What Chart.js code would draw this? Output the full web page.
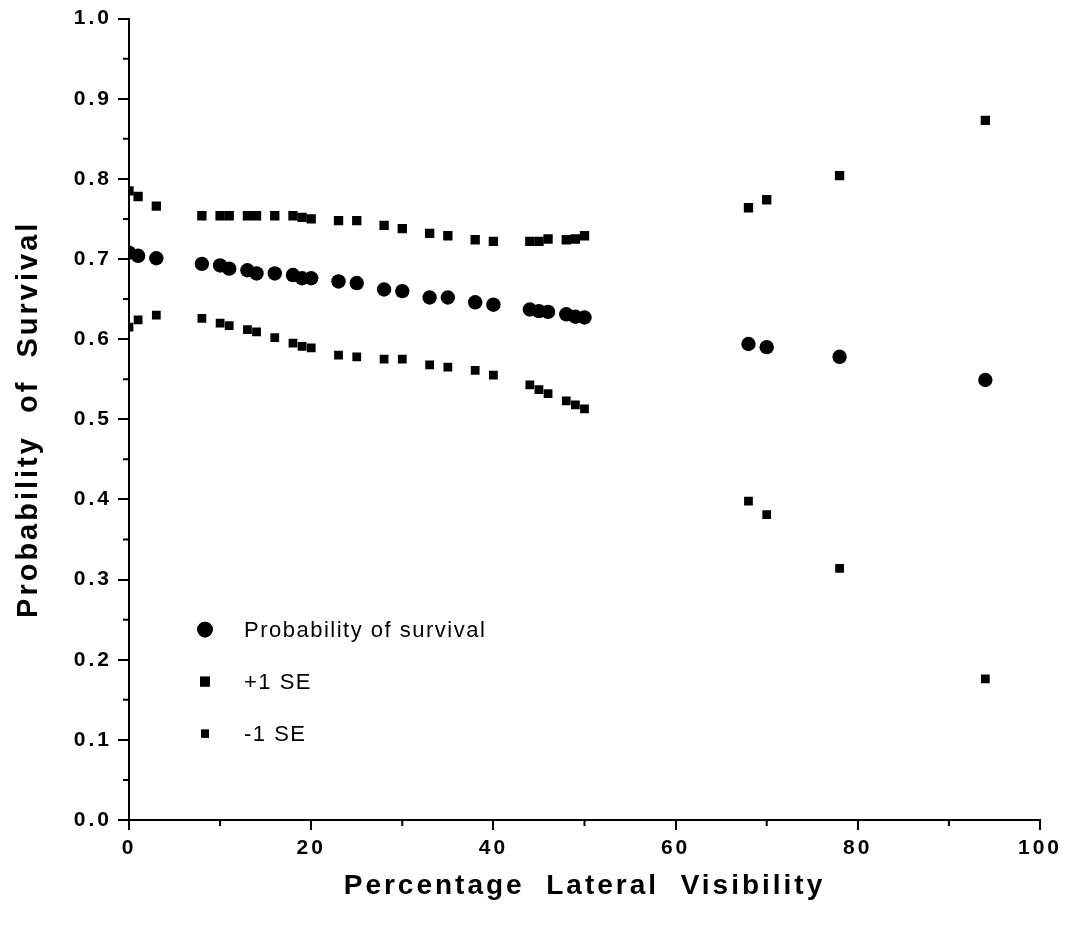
<!DOCTYPE html>
<html>
<head>
<meta charset="utf-8">
<title>Probability of Survival</title>
<script src="https://cdn.jsdelivr.net/npm/chart.js@4/dist/chart.umd.min.js"></script>
<style>
    body { margin: 0; background: #ffffff; }
    #ChartCanvas { display: block; }
</style>
</head>
<body>
<canvas id="ChartCanvas" width="1068" height="933"></canvas>
<script>
// Percentage lateral visibility (x) for every estimate
const visibility = [0, 1, 3, 8, 10, 11, 13, 14, 16, 18, 19, 20, 23, 25, 28, 30, 33, 35, 38, 40, 44, 45, 46, 48, 49, 50, 68, 70, 78, 94];

// Probability of survival and the +/- 1 SE bounds
const survival   = [0.708, 0.704, 0.701, 0.694, 0.692, 0.688, 0.686, 0.682, 0.682, 0.680, 0.676, 0.676, 0.672, 0.670, 0.662, 0.660, 0.652, 0.652, 0.646, 0.643, 0.637, 0.635, 0.634, 0.631, 0.628, 0.627, 0.594, 0.590, 0.578, 0.549];
const plusOneSE  = [0.785, 0.778, 0.766, 0.754, 0.754, 0.754, 0.754, 0.754, 0.754, 0.754, 0.752, 0.750, 0.748, 0.748, 0.742, 0.738, 0.732, 0.729, 0.724, 0.722, 0.722, 0.722, 0.725, 0.724, 0.725, 0.729, 0.764, 0.774, 0.804, 0.873];
const minusOneSE = [0.615, 0.624, 0.630, 0.626, 0.620, 0.617, 0.612, 0.609, 0.602, 0.595, 0.591, 0.589, 0.580, 0.578, 0.575, 0.575, 0.568, 0.565, 0.561, 0.555, 0.543, 0.537, 0.532, 0.523, 0.518, 0.513, 0.398, 0.381, 0.314, 0.176];

const seriesLabels = ['Probability of survival', '+1 SE', '-1 SE'];

// Minor tick positions (unlabelled, shorter)
const xMinorTicks = [10, 30, 50, 70, 90];
const yMinorTicks = [0.05, 0.15, 0.25, 0.35, 0.45, 0.55, 0.65, 0.75, 0.85, 0.95];

Initialize();

function Initialize()
{
    const ctx = document.getElementById('ChartCanvas').getContext('2d');

    const toPoints = values => values.map((v, i) => ({ x: visibility[i], y: v }));

    // Letter spacing for the old laser-printer look of the labels
    const spacingPlugin =
    {
        id: 'spacing',
        beforeDraw(chart)
        {
            if ('letterSpacing' in chart.ctx) chart.ctx.letterSpacing = '3px';
        }
    };

    // Short minor ticks on both axes
    const minorTicksPlugin =
    {
        id: 'minorTicks',
        afterDraw(chart)
        {
            const c = chart.ctx;
            const xs = chart.scales.x;
            const ys = chart.scales.y;
            c.save();
            c.strokeStyle = '#000';
            c.lineWidth = 2;
            c.beginPath();
            xMinorTicks.forEach(v =>
            {
                const px = xs.getPixelForValue(v);
                c.moveTo(px, ys.bottom);
                c.lineTo(px, ys.bottom + 6);
            });
            yMinorTicks.forEach(v =>
            {
                const py = ys.getPixelForValue(v);
                c.moveTo(xs.left, py);
                c.lineTo(xs.left - 6, py);
            });
            c.stroke();
            c.restore();
        }
    };

    // Legend drawn inside the plot, lower left
    const innerLegendPlugin =
    {
        id: 'innerLegend',
        afterDraw(chart)
        {
            const c = chart.ctx;
            const area = chart.chartArea;
            const markerX = area.left + 76;
            const textX = area.left + 115;
            const rowTop = area.top + 611;
            const rowGap = 52;
            c.save();
            if ('letterSpacing' in c) c.letterSpacing = '1.5px';
            c.font = '22px "Liberation Sans", Arial, sans-serif';
            c.fillStyle = '#000';
            c.textAlign = 'left';
            c.textBaseline = 'middle';
            chart.data.datasets.forEach((ds, i) =>
            {
                const y = rowTop + i * rowGap;
                Chart.helpers.drawPoint(c,
                {
                    pointStyle: ds.pointStyle,
                    radius: ds.legendRadius,
                    borderWidth: 0,
                    rotation: 0
                }, markerX, y);
                c.fillStyle = '#000';
                c.fill();
                c.fillText(ds.label, textX, y + 1);
            });
            c.restore();
        }
    };

    new Chart(ctx,
    {
        type: 'scatter',
        data:
        {
            datasets:
            [
                {
                    label: seriesLabels[0],
                    data: toPoints(survival),
                    pointStyle: 'circle',
                    pointRadius: 7.2,
                    legendRadius: 7.8,
                    backgroundColor: '#000',
                    borderColor: '#000',
                    borderWidth: 0
                },
                {
                    label: seriesLabels[1],
                    data: toPoints(plusOneSE),
                    pointStyle: 'rect',
                    pointRadius: 6.6,
                    legendRadius: 7,
                    backgroundColor: '#000',
                    borderColor: '#000',
                    borderWidth: 0
                },
                {
                    label: seriesLabels[2],
                    data: toPoints(minusOneSE),
                    pointStyle: 'rect',
                    pointRadius: 6.2,
                    legendRadius: 5.7,
                    backgroundColor: '#000',
                    borderColor: '#000',
                    borderWidth: 0
                }
            ]
        },
        options:
        {
            responsive: false,
            animation: false,
            layout: { padding: { top: 15, right: 28, left: 0, bottom: 0 } },
            plugins:
            {
                legend: { display: false },
                tooltip: { enabled: false }
            },
            scales:
            {
                x:
                {
                    type: 'linear',
                    min: 0,
                    max: 100,
                    afterFit: scale => { scale.height = 113; },
                    border: { display: true, color: '#000', width: 2 },
                    grid: { drawOnChartArea: false, drawTicks: true, tickLength: 10, color: '#000', lineWidth: 2 },
                    ticks:
                    {
                        stepSize: 20,
                        color: '#000',
                        padding: 6,
                        maxRotation: 0,
                        font: { family: '"Liberation Sans", Arial, sans-serif', size: 21, weight: 'bold' }
                    },
                    title:
                    {
                        display: true,
                        text: 'Percentage  Lateral  Visibility',
                        color: '#000',
                        padding: { top: 0, bottom: 30 },
                        font: { family: '"Liberation Sans", Arial, sans-serif', size: 28, weight: 'bold' }
                    }
                },
                y:
                {
                    type: 'linear',
                    min: 0,
                    max: 1,
                    afterFit: scale => { scale.width = 129; },
                    border: { display: true, color: '#000', width: 2 },
                    grid: { drawOnChartArea: false, drawTicks: true, tickLength: 11, color: '#000', lineWidth: 2 },
                    ticks:
                    {
                        stepSize: 0.1,
                        color: '#000',
                        padding: 6,
                        callback: v => v.toFixed(1),
                        font: { family: '"Liberation Sans", Arial, sans-serif', size: 21, weight: 'bold' }
                    },
                    title:
                    {
                        display: true,
                        text: 'Probability  of  Survival',
                        color: '#000',
                        padding: { top: 12, bottom: 0 },
                        font: { family: '"Liberation Sans", Arial, sans-serif', size: 29, weight: 'bold' }
                    }
                }
            }
        },
        plugins: [spacingPlugin, minorTicksPlugin, innerLegendPlugin]
    });
}
</script>
</body>
</html>
